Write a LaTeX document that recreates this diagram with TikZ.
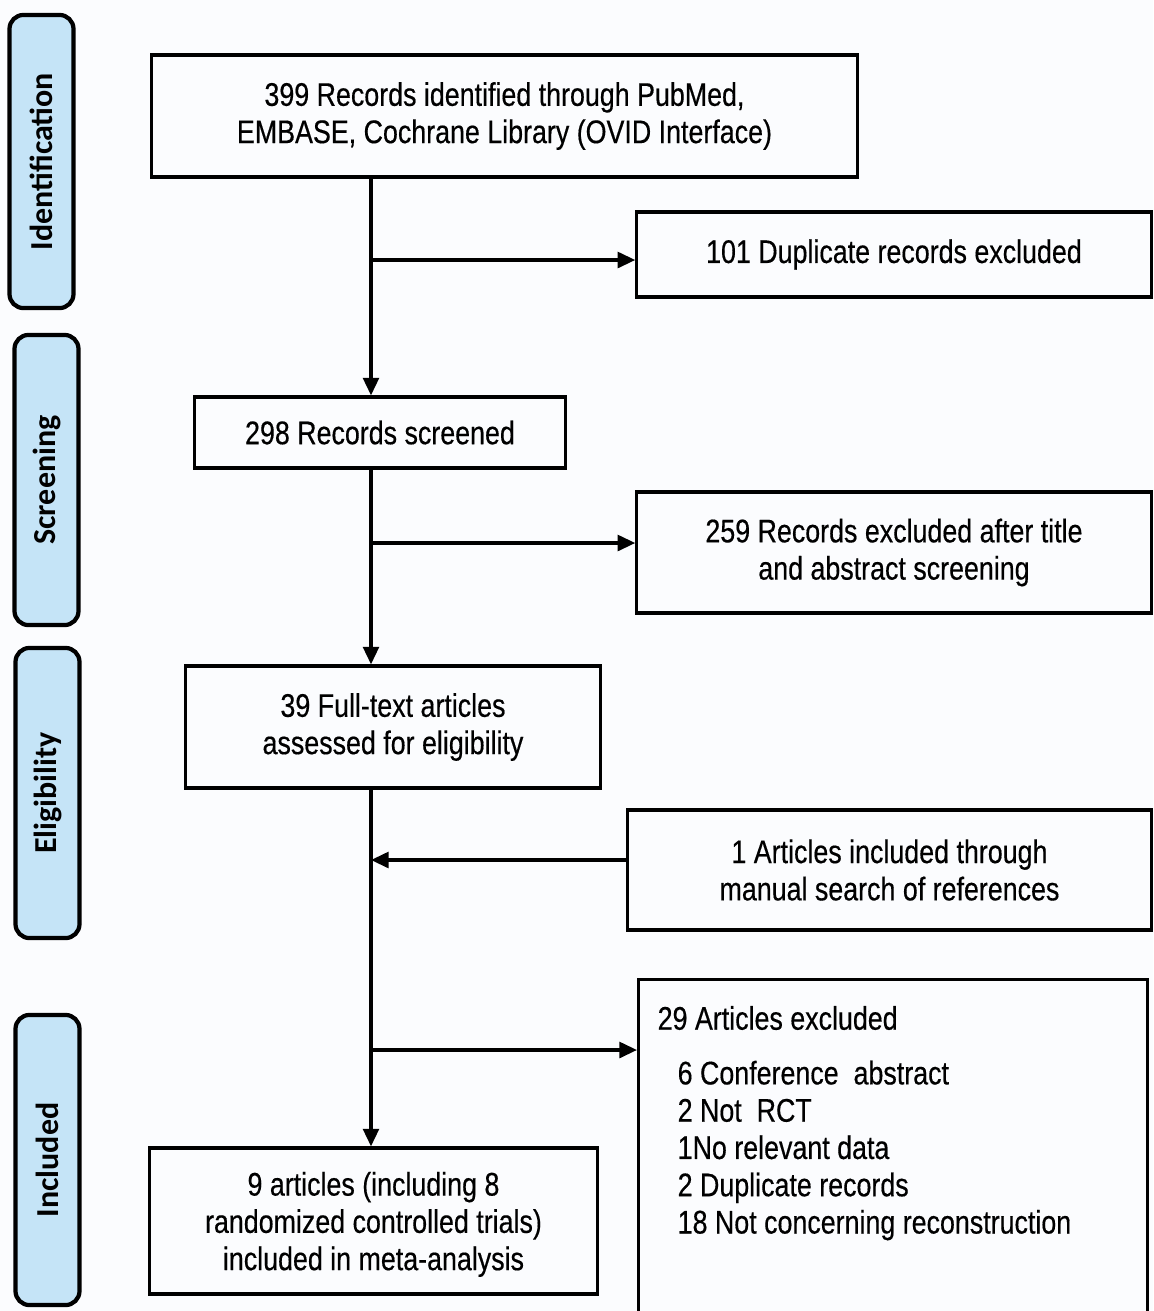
\documentclass[tikz,border=0pt]{standalone}
\usepackage{fontspec}
\setmainfont[FakeStretch=0.82,FakeBold=0.4]{Liberation Sans}
\newfontfamily\phasefont{Carlito}
\usepackage{xcolor}
\usepackage{tikz}
\usetikzlibrary{arrows.meta}
\definecolor{phaseblue}{RGB}{197,228,247}
\definecolor{pagebg}{RGB}{251,252,254}
\newcommand{\nrw}{\fontsize{9.3}{10.6}\selectfont}

\begin{document}
\begin{tikzpicture}[x=0.01cm, y=-0.01cm, font=\nrw,
  box/.style={draw, line width=0.9pt, align=center, inner sep=0pt},
  phase/.style={draw, line width=1.2pt, rounded corners=4pt, fill=phaseblue, rotate=90,
    minimum width=2.9cm, minimum height=0.64cm, inner sep=0pt,
    font=\phasefont\bfseries\fontsize{9.1}{10}\selectfont},
  arr/.style={line width=0.9pt, -{Triangle[length=5pt,width=4.5pt]}}]
\useasboundingbox (0,0) rectangle (1153,1311);
\fill[pagebg] (0,0) rectangle (1153,1311);
\clip (0,0) rectangle (1153,1311);

% phases
\node[phase, minimum width=2.93cm] (idf) at (41.5,161.5) {Identification};
\node[phase] (scr) at (46.5,480) {Screening};
\node[phase] (elg) at (47.5,793) {Eligibility};
\node[phase] (inc) at (47.5,1160) {Included};

% main column
\node[box, minimum width=7.05cm, minimum height=1.22cm] (rec) at (504.5,116) {399 Records identified through PubMed,\\EMBASE, Cochrane Library (OVID Interface)};
\node[box, minimum width=3.70cm, minimum height=0.71cm] (scrn) at (380,432.5) {298 Records screened};
\node[box, minimum width=4.14cm, minimum height=1.22cm] (full) at (393,727) {39 Full-text articles\\assessed for eligibility};
\node[box, minimum width=4.47cm, minimum height=1.46cm, text depth=-0.1cm] (incl) at (373.5,1221) {9 articles (including 8\\randomized controlled trials)\\included in meta-analysis};

% side boxes
\node[box, minimum width=5.14cm, minimum height=0.85cm] (dup) at (894,254.5) {101 Duplicate records excluded};
\node[box, minimum width=5.14cm, minimum height=1.21cm] (exc1) at (894,552.5) {259 Records excluded after title\\and abstract screening};
\node[box, minimum width=5.23cm, minimum height=1.20cm] (man) at (889.5,870) {1 Articles included through\\manual search of references};
\node[box, anchor=north west, minimum width=5.09cm, minimum height=3.5cm] (exc) at (637,978) {};
\node[anchor=west, inner sep=0pt] (exchead) at (657,1018) {29 Articles excluded};
\node[anchor=north west, align=left, inner sep=0pt] (excwhy) at (677,1060) {6 Conference~ abstract\\2 Not~ RCT\\1No relevant data\\2 Duplicate records\\18 Not concerning reconstruction};

% connectors
\coordinate (spine) at (371,0);
\coordinate (fork1) at (371,260);
\coordinate (fork2) at (371,543);
\coordinate (join) at (371,860);
\coordinate (fork3) at (371,1050);
\draw[arr] (rec.south -| spine) -- (scrn.north -| spine);
\draw[arr] (scrn.south -| spine) -- (full.north -| spine);
\draw[arr] (full.south -| spine) -- (incl.north -| spine);
\draw[arr] (fork1) -- (fork1 -| dup.west);
\draw[arr] (fork2) -- (fork2 -| exc1.west);
\draw[arr] (join -| man.west) -- (join);
\draw[arr] (fork3) -- (fork3 -| exc.west);

\end{tikzpicture}
\end{document}
